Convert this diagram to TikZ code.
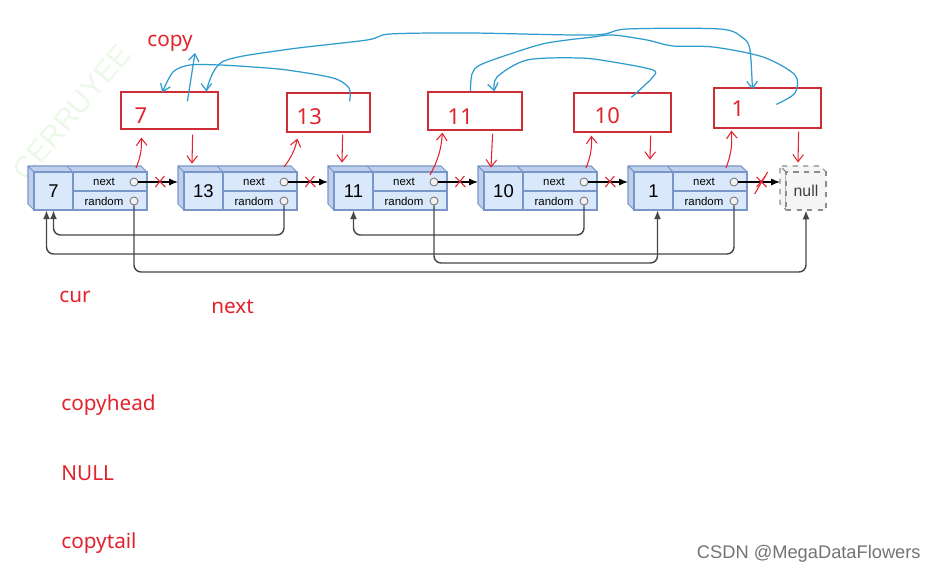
\documentclass[tikz,border=0pt]{standalone}
\usepackage{fontspec}
\setmainfont{Noto Sans}
\newfontfamily\boxfont{Liberation Sans}
\usetikzlibrary{calc}
\usetikzlibrary{arrows.meta}

\definecolor{nodeblue}{RGB}{218,232,252}
\definecolor{nodeshade}{RGB}{190,208,236}
\definecolor{nodeedge}{RGB}{120,150,200}
\definecolor{portfill}{RGB}{242,242,242}
\definecolor{portedge}{RGB}{120,120,120}
\definecolor{nullfill}{RGB}{245,245,245}
\definecolor{nulledge}{RGB}{140,140,140}
\definecolor{linkgray}{RGB}{70,70,70}
\definecolor{boxred}{RGB}{205,45,55}
\definecolor{penred}{RGB}{225,35,45}
\definecolor{penblue}{RGB}{45,155,205}
\definecolor{markgray}{RGB}{115,115,115}
\definecolor{faintgreen}{RGB}{236,249,232}

\def\pxu{0.02cm}

% one node of the list: name, left x of front face, value
\newcommand{\listnode}[3]{%
  \filldraw[nodeside] (#2,172) -- (#2-6,166) -- (#2-6,204) -- (#2,210) -- cycle;
  \filldraw[nodeside] (#2,172) -- (#2-6,166) -- (#2+107,166) -- (#2+113,172) -- cycle;
  \draw[nodeline] (#2+39,172) -- (#2+33,166);
  \filldraw[nodefront] (#2,172) rectangle (#2+113,210);
  \draw[nodeline] (#2+39,172) -- (#2+39,210) (#2+39,191) -- (#2+113,191);
  \node[valtext] (#1) at (#2+19.5,191) {#3};
  \node[fieldtext] (#1-nxt) at (#2+70,182) {next};
  \node[fieldtext] (#1-rnd) at (#2+70,201) {random};
  \node[port] (#1-nx) at (#2+100,182) {};
  \node[port] (#1-rd) at (#2+100,201) {};
  \coordinate (#1-in) at (#2-6,182);
}

\begin{document}
\begin{tikzpicture}[x=\pxu, y=-\pxu,
  nodefront/.style={fill=nodeblue, draw=nodeedge, line width=0.6pt},
  nodeside/.style={fill=nodeshade, draw=nodeedge, line width=0.6pt, line join=round},
  nodeline/.style={draw=nodeedge, line width=0.6pt},
  valtext/.style={font=\boxfont\fontsize{10.5}{12}\selectfont, minimum width=39*\pxu, minimum height=38*\pxu, inner sep=0pt},
  fieldtext/.style={font=\boxfont\fontsize{6.5}{7}\selectfont, inner sep=0pt},
  port/.style={circle, draw=portedge, fill=portfill, line width=0.5pt, minimum size=8*\pxu, inner sep=0pt},
  nextarrow/.style={draw=black, line width=0.7pt, -{Latex[length=5pt,width=4pt]}},
  randline/.style={draw=linkgray, line width=0.8pt, rounded corners=4pt, -{Latex[length=5pt,width=4pt]}},
  cbox/.style 2 args={draw=boxred, line width=0.7pt, minimum width=#1*\pxu, minimum height=#2*\pxu, inner sep=0pt},
  cnum/.style={text=penred, font=\fontsize{12.5}{14}\selectfont, inner sep=0pt, anchor=west},
  redlbl/.style={text=penred, font=\fontsize{11.8}{14}\selectfont, inner sep=0pt, anchor=base west},
  hand/.style={draw=penred, line width=0.6pt, -{Straight Barb[length=4pt,width=6pt]}},
  scrib/.style={draw=penred, line width=0.6pt},
  pen/.style={draw=penblue, line width=0.7pt},
  pentip/.style={-{Straight Barb[length=4pt,width=6pt]}}
]
\useasboundingbox (0,0) rectangle (937,571);

% faint watermark
\node[text=faintgreen, rotate=50, font=\boxfont\fontsize{17}{17}\selectfont] (wm) at (72,112) {CERRUYEE};

% the list
\listnode{n7}{34}{7}
\listnode{n13}{184}{13}
\listnode{n11}{334}{11}
\listnode{n10}{484}{10}
\listnode{n1}{634}{1}

\filldraw[fill=nullfill, draw=nulledge, dashed, line width=0.6pt] (786,172) -- (780,166) -- (780,204) -- (786,210) -- cycle;
\filldraw[fill=nullfill, draw=nulledge, dashed, line width=0.6pt] (786,172) -- (780,166) -- (820,166) -- (826,172) -- cycle;
\node[fill=nullfill, draw=nulledge, dashed, line width=0.6pt, minimum width=40*\pxu, minimum height=38*\pxu, inner sep=0pt,
      text=black!75, font=\boxfont\fontsize{9}{10}\selectfont] (nnull) at (806,191) {null};
\coordinate (nnull-in) at (780,182);

\foreach \a/\b in {7/13, 13/11, 11/10, 10/1, 1/null}
  \draw[nextarrow] (n\a-nx) -- (n\b-in);

% random pointers
\draw[randline] (n7-rd) -- ++(0,71) -| (nnull.south);
\draw[randline] (n13-rd) -- ++(0,34) -| (n7.south);
\draw[randline] (n1-rd) -- ++(0,53) -| ($(n7.south)+(-7,0)$);
\draw[randline] (n11-rd) -- ++(0,62) -| ($(n1.south)+(4,0)$);
\draw[randline] (n10-rd) -- ++(0,34) -| (n11.south);

% copied nodes
\node[cbox={97}{37}] (c7) at (169.5,110.5) {};
\node[cbox={83}{39}] (c13) at (328.5,112.5) {};
\node[cbox={94}{38}] (c11) at (475,111) {};
\node[cbox={97}{39}] (c10) at (622.5,112.5) {};
\node[cbox={107}{40}] (c1) at (767.5,108) {};
\node[cnum] (c7-v) at ($(c7.west)+(14,5)$) {7};
\node[cnum] (c13-v) at ($(c13.west)+(10,4)$) {13};
\node[cnum] (c11-v) at ($(c11.west)+(20,6)$) {11};
\node[cnum] (c10-v) at ($(c10.west)+(21,3)$) {10};
\node[cnum] (c1-v) at ($(c1.west)+(18,1)$) {1};

% red pen: node -> copy -> next node
\foreach \n/\sx/\sy/\dx/\dy in {7/2/-14/21/8, 13/0/-15/11/6, 11/-4/-7/15/2, 10/2/-14/18/3, 1/-8/-14/18/2}
  \draw[hand] ($(n\n-nx)+(\sx,\sy)$) to[bend right=12] ($(c\n.south west)+(\dx,\dy)$);
\foreach \c/\n/\sx/\sy/\dx/\dy in {7/13/-26/5/-11.5/-8, 13/11/-28/2/-11.5/-9, 11/10/-30/3/-12.5/-4, 10/1/-21/3/-3.5/-12, 1/null/-23/3/-8/-9}
  \draw[hand] ($(c\c.south east)+(\sx,\sy)$) -- ($(n\n.north)+(\dx,\dy)$);
\foreach \a/\b in {7/13, 13/11, 11/10, 10/1, 1/null}
  \draw[scrib] ($(n\a-nx)!0.6!(n\b-in)$) +(-5,-5) -- +(5,5) +(-5,5) -- +(4,-6);
\draw[scrib] ($(n1-nx)!0.6!(nnull-in)$) +(-7,12) -- +(6,-10);

% blue pen: random of the copies
\coordinate (bA1) at ($(c13.north east)+(-21,9)$);
\coordinate (bA2) at ($(c7.north west)+(42,1)$);
\coordinate (bC1) at ($(c7.north west)+(86,0)$);
\coordinate (bC2) at ($(c1.north west)+(39,2)$);
\coordinate (bB1) at ($(c1.north west)+(63,17)$);
\coordinate (bB2) at ($(c11.north west)+(43,0)$);
\coordinate (bD1) at ($(c10.north west)+(58,5)$);
\coordinate (bD2) at ($(c11.north west)+(67,0)$);
\coordinate (bE1) at ($(c7.north west)+(67,10)$);
\coordinate (bE2) at (195,53);

\draw[pen, pentip] plot[smooth, tension=0.5] coordinates {(bA1) (349,88) (333,78) (287,70) (253,67) (220,65) (190,65) (173,72) (bA2)};
\draw[pen, pentip] plot[smooth, tension=0.5] coordinates {(bC1) (222,62) (283,50) (367,40) (390,34) (470,33) (593,35) (627,29) (720,29) (743,38) (750,50) (bC2)};
\draw[pen, -{Straight Barb[length=4pt,width=6pt]}] (bC1) -- ++(0,0.1);
\draw[pen] plot[smooth, tension=0.5] coordinates {(bB1) (795,93) (795,75) (763,57) (713,47) (673,46) (647,40) (613,35) (593,37) (547,43) (513,53) (480,65) (472,74) (bB2)};
\draw[pen, pentip] plot[smooth, tension=0.5] coordinates {(bD1) (652,78) (653,70) (613,62) (580,58) (527,60) (497,77) (bD2)};
\draw[pen, pentip] (bE1) -- (bE2);

% notes
\node[redlbl] (lcopy) at (147,47) {copy};
\node[redlbl] (lcur) at (59,302) {cur};
\node[redlbl] (lnext) at (211,313) {next};
\node[redlbl] (lhead) at (61,410) {copyhead};
\node[redlbl] (lnull) at (61,480) {NULL};
\node[redlbl] (ltail) at (61,548) {copytail};

\node[text=markgray, anchor=base east, inner sep=0pt, font=\boxfont\fontsize{10.4}{12}\selectfont] (csdn) at (921,558) {CSDN @MegaDataFlowers};
\end{tikzpicture}
\end{document}
